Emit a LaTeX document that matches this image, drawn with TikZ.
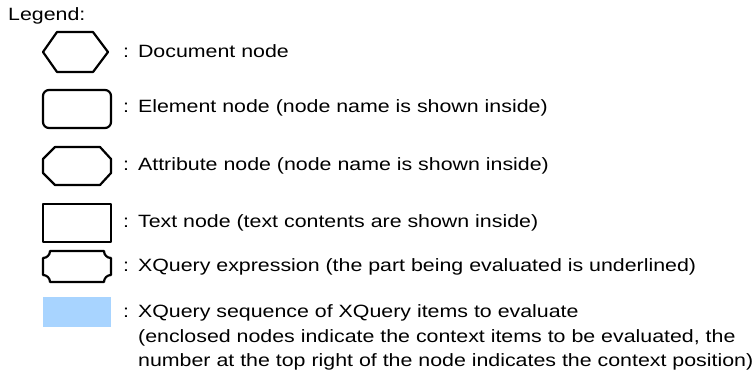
\documentclass[tikz,border=0pt]{standalone}
\usepackage{fontspec}
\setmainfont{Liberation Sans}[FakeStretch=1.2]
\newcommand{\legsep}{:\kern3pt\ }
\begin{document}
\begin{tikzpicture}[x=1pt,y=-1pt,
  shapeline/.style={draw=black,line width=2.2pt,line join=round},
  label/.style={anchor=base west,inner sep=0pt,font=\fontsize{17.8}{24.2}\selectfont},
  seqfill/.style={fill=seqblue,draw=none}]
\definecolor{seqblue}{HTML}{A8D4FF}
\useasboundingbox (0,0) rectangle (755,376);

% heading
\node[label] (title) at (8,20.5) {Legend:};

% document node: hexagon
\draw[shapeline] (43,52) -- (57,32) -- (93,32) -- (108,52) -- (93,72) -- (57,72) -- cycle;
\node[label] (doc) at (123,57) {\legsep Document node};

% element node: rounded rectangle
\draw[shapeline,rounded corners=6pt] (43,90) rectangle (111,128);
\node[label] (elem) at (123,112.5) {\legsep Element node (node name is shown inside)};

% attribute node: chamfered octagon
\draw[shapeline] (55,147) -- (100,147) -- (111,159) -- (111,173) -- (100,185)
  -- (55,185) -- (43,173) -- (43,159) -- cycle;
\node[label] (attr) at (123,170) {\legsep Attribute node (node name is shown inside)};

% text node: plain rectangle
\draw[shapeline] (43,204) rectangle (111,242);
\node[label] (txt) at (123,227.5) {\legsep Text node (text contents are shown inside)};

% XQuery expression: rectangle with concave corners
\draw[shapeline] (50,251) -- (104,251) arc[start angle=180,end angle=90,radius=7]
  -- (111,275) arc[start angle=-90,end angle=-180,radius=7]
  -- (50,282) arc[start angle=0,end angle=-90,radius=7]
  -- (43,258) arc[start angle=90,end angle=0,radius=7] -- cycle;
\node[label] (expr) at (123,271.5) {\legsep XQuery expression (the part being evaluated is underlined)};

% XQuery sequence: filled box
\fill[seqfill] (43,297) rectangle (111,327);
\node[label] (seq) at (123,317.7) {\legsep XQuery sequence of XQuery items to evaluate};
\node[label] (seq2) at (138,342.2) {(enclosed nodes indicate the context items to be evaluated, the};
\node[label] (seq3) at (138,366.4) {number at the top right of the node indicates the context position)};
\end{tikzpicture}
\end{document}
